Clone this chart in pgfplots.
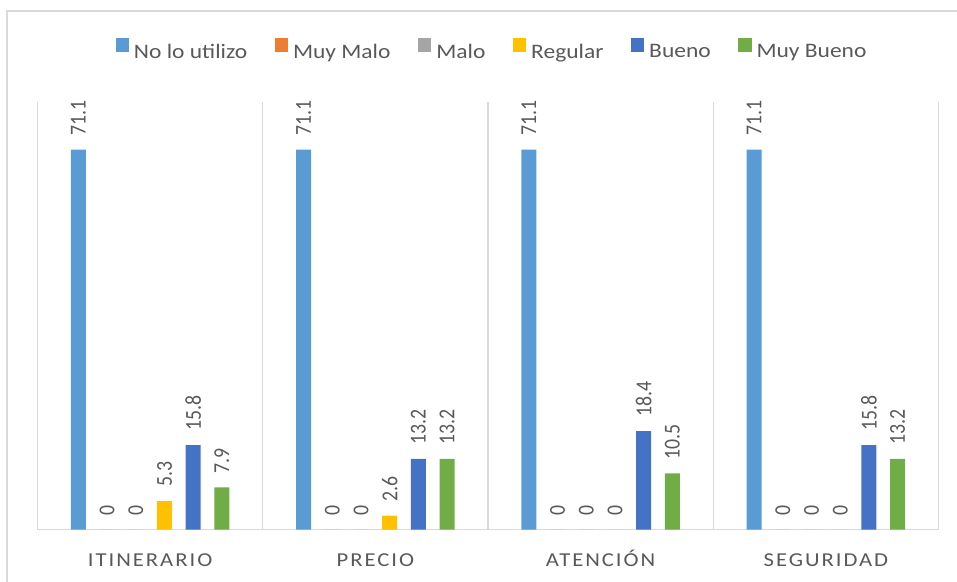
\documentclass[border=0pt]{standalone}
\usepackage{pgfplots}
\pgfplotsset{compat=1.18}
\usetikzlibrary{calc}
\usepackage{graphicx}
\usepackage{fontspec}
\setmainfont{Carlito}
\newfontfamily\legfont{Carlito}[FakeStretch=1.14]
\newfontfamily\catfont{Carlito}[FakeStretch=1.15,LetterSpace=10]
\definecolor{cA}{HTML}{5B9BD5}
\definecolor{cB}{HTML}{ED7D31}
\definecolor{cC}{HTML}{A5A5A5}
\definecolor{cD}{HTML}{FFC000}
\definecolor{cE}{HTML}{4472C4}
\definecolor{cF}{HTML}{70AD47}
\definecolor{txt}{HTML}{595959}
\definecolor{grd}{HTML}{D9D9D9}
\pgfplotsset{sqlegend/.style={legend image code/.code={\fill[##1,draw=none] (0pt,0pt) rectangle (13.3pt,13.3pt);}}}
\begin{document}
\begin{tikzpicture}[x=1pt,y=1pt]
\begin{axis}[
  scale only axis, width=901pt, height=427.5pt,
  xmin=-0.5, xmax=3.5, ymin=0, ymax=80,
  axis x line*=bottom, axis y line=none,
  x axis line style={grd, line width=1.2pt, -},
  xtick={0,1,2,3},
  xticklabels={ITINERARIO,PRECIO,ATENCIÓN,SEGURIDAD},
  minor xtick={-0.5,0.5,1.5,2.5,3.5},
  xminorgrids=true,
  minor grid style={grd, line width=1.2pt},
  major tick length=0pt, minor tick length=0pt,
  xticklabel style={font=\catfont\fontsize{19.7}{22}\selectfont, text=txt, anchor=base, inner sep=0pt, yshift=-36.5pt},
  ytick=\empty,
  ybar=13.66pt, bar width=15pt,
  nodes near coords={\scalebox{1}[1.15]{\pgfmathprintnumber{\pgfplotspointmeta}}},
  every node near coord/.append style={rotate=90, anchor=west, inner xsep=14pt, inner ysep=0pt, font=\fontsize{19.8}{22}\selectfont, text=txt},
  /pgf/number format/assume math mode=true,
  legend columns=6,
  legend style={at={(0.5045,1.1216)}, anchor=center, draw=none, fill=none,
    font=\legfont\fontsize{20.6}{24}\selectfont, text=txt,
    /tikz/every odd column/.append style={column sep=3pt},
    /tikz/every even column/.append style={column sep=25.5pt}},
  clip=false,
]
\addplot[fill=cA, draw=none, sqlegend] coordinates {(0,71.1) (1,71.1) (2,71.1) (3,71.1)};
\addplot[fill=cB, draw=none, sqlegend] coordinates {(0,0) (1,0) (2,0) (3,0)};
\addplot[fill=cC, draw=none, sqlegend] coordinates {(0,0) (1,0) (2,0) (3,0)};
\addplot[fill=cD, draw=none, sqlegend] coordinates {(0,5.3) (1,2.6) (2,0) (3,0)};
\addplot[fill=cE, draw=none, sqlegend] coordinates {(0,15.8) (1,13.2) (2,18.4) (3,15.8)};
\addplot[fill=cF, draw=none, sqlegend] coordinates {(0,7.9) (1,13.2) (2,10.5) (3,13.2)};
\legend{No lo utilizo, Muy Malo, Malo, Regular, Bueno, Muy Bueno}
\coordinate (O) at (rel axis cs:0,0);
\end{axis}
\draw[grd, line width=1.6pt] ($(O)+(-30.2,-60)$) -- ($(O)+(-30.2,518.5)$) -- ($(O)+(940,518.5)$);
\pgfresetboundingbox
\path[use as bounding box] ($(O)+(-37.5,-51.5)$) rectangle ($(O)+(919.5,529.5)$);
\end{tikzpicture}
\end{document}
